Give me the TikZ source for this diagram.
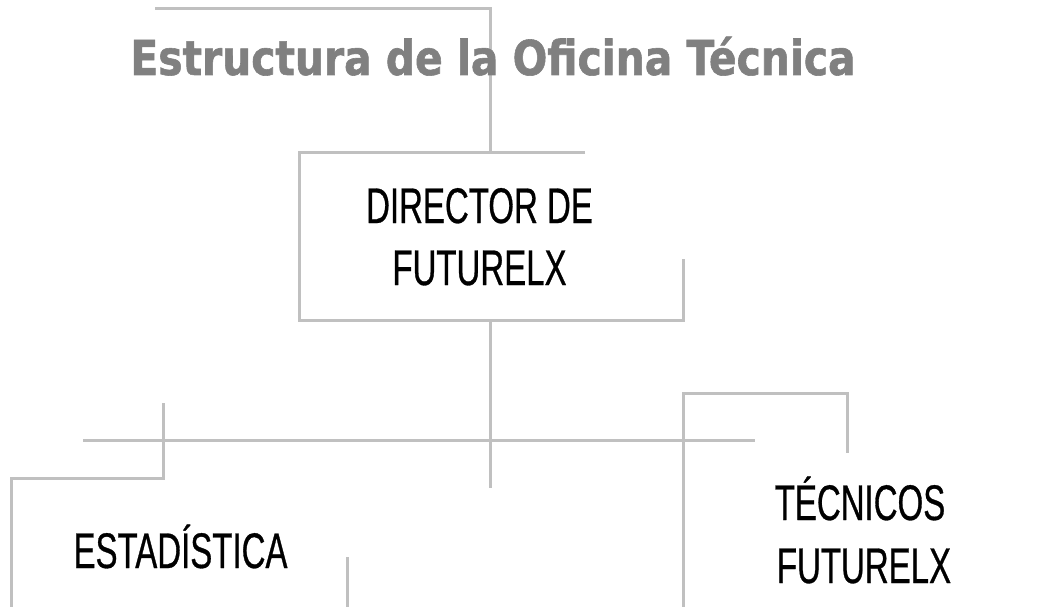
\documentclass[tikz,border=0pt]{standalone}
\usepackage{fontspec}
\setmainfont{Liberation Sans}
\newfontfamily\titlefont[FakeStretch=0.85,FakeBold=1.2]{DejaVu Sans}
\newfontfamily\condfont[FakeStretch=0.66,FakeBold=0.6]{Liberation Sans}
\definecolor{linegray}{HTML}{C0C0C0}
\definecolor{titlegray}{HTML}{808080}
\tikzset{
  frame/.style={draw=linegray, line width=3pt, line join=miter},
  titletext/.style={inner sep=0pt, anchor=base, text=titlegray, font=\titlefont\bfseries\fontsize{48}{58}\selectfont},
  boxtext/.style={inner sep=0pt, anchor=base, text=black, font=\condfont\fontsize{50}{62}\selectfont},
}
\begin{document}
\begin{tikzpicture}[x=1pt, y=-1pt]
\useasboundingbox (0,0) rectangle (1037,607);
% coordinates
\coordinate (t1) at (155,9);
\coordinate (t2) at (490,9);
\coordinate (t3) at (490,153);
\coordinate (d1) at (585,153);
\coordinate (d2) at (299,153);
\coordinate (d3) at (299,320);
\coordinate (d4) at (683,320);
\coordinate (d5) at (683,259);
\coordinate (v1) at (490,320);
\coordinate (v2) at (490,488);
\coordinate (h1) at (83,440);
\coordinate (h2) at (755,440);
\coordinate (e1) at (163,403);
\coordinate (e2) at (163,478);
\coordinate (e3) at (11,478);
\coordinate (e4) at (11,607);
\coordinate (e5) at (347,557);
\coordinate (e6) at (347,607);
\coordinate (r1) at (683,607);
\coordinate (r2) at (683,393);
\coordinate (r3) at (847,393);
\coordinate (r4) at (847,453);
% lines
\draw[frame] (t1) -- (t2) -- (t3);
\draw[frame] (d1) -- (d2) -- (d3) -- (d4) -- (d5);
\draw[frame] (v1) -- (v2);
\draw[frame] (h1) -- (h2);
\draw[frame] (e1) -- (e2) -- (e3) -- (e4);
\draw[frame] (e5) -- (e6);
\draw[frame] (r1) -- (r2) -- (r3) -- (r4);
% texts
\node[titletext] (title) at (493,75) {Estructura de la Oficina Técnica};
\node[boxtext] (dir1) at (479.5,223) {DIRECTOR DE};
\node[boxtext] (dir2) at (479.5,285) {FUTURELX};
\node[boxtext] (est) at (180.5,568) {ESTADÍSTICA};
\node[boxtext] (tec1) at (860,520) {TÉCNICOS};
\node[boxtext] (tec2) at (864,583) {FUTURELX};
\end{tikzpicture}
\end{document}
